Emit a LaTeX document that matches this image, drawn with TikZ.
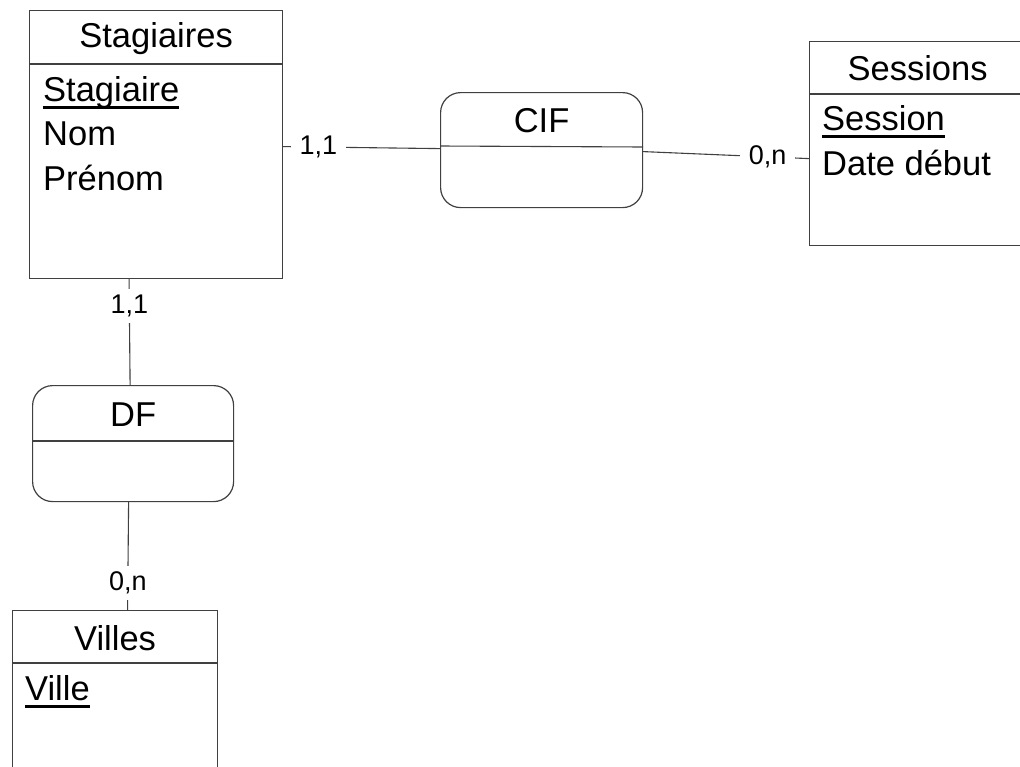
\documentclass[tikz,border=0pt]{standalone}
\usepackage{fontspec}
\setmainfont{Liberation Sans}
% key attribute: text with a thick underline
\newcommand\keyattr[1]{\setbox0\hbox{#1}\rlap{\rule[-8pt]{\wd0}{2.8pt}}#1}
\begin{document}
\begin{tikzpicture}[x=1pt,y=-1pt,
  box/.style={draw=black!75,line width=1.2pt,anchor=north west,inner sep=0pt},
  entity/.style={box},
  assoc/.style={box,rounded corners=20pt},
  sep/.style={draw=black!75,line width=1.1pt},
  link/.style={draw=black!75,line width=1.1pt},
  title/.style={anchor=base,inner sep=0pt,font=\fontsize{34.5}{40}\selectfont},
  attr/.style={anchor=base west,inner sep=0pt,font=\fontsize{34.5}{40}\selectfont},
  card/.style={fill=white,inner xsep=9pt,inner ysep=6pt,font=\fontsize{27}{30}\selectfont}]
\useasboundingbox (0,0) rectangle (1020,766);

% entities
\node[entity,minimum width=253pt,minimum height=268pt] (stag) at (29,10) {};
\node[entity,minimum width=216pt,minimum height=204pt] (sess) at (809,41) {};
\node[entity,minimum width=205pt,minimum height=200pt] (vill) at (12,610) {};
% associations
\node[assoc,minimum width=202pt,minimum height=115pt] (cif) at (440,92) {};
\node[assoc,minimum width=201pt,minimum height=116pt] (df) at (32,385) {};

% header separators
\draw[sep] ([yshift=-54pt]stag.north west) -- ([yshift=-54pt]stag.north east);
\draw[sep] ([yshift=-53pt]sess.north west) -- ([yshift=-53pt]sess.north east);
\draw[sep] ([yshift=-53pt]vill.north west) -- ([yshift=-53pt]vill.north east);
\draw[sep] ([yshift=-54pt]cif.north west) -- ([yshift=-55pt]cif.north east);
\draw[sep] ([yshift=-56pt]df.north west) -- ([yshift=-56pt]df.north east);

% titles
\node[title] (stag-t) at ([yshift=-37pt]stag.north) {Stagiaires};
\node[title] (sess-t) at ([yshift=-39pt]sess.north) {Sessions};
\node[title] (vill-t) at ([yshift=-40pt]vill.north) {Villes};
\node[title] (cif-t) at ([yshift=-40pt]cif.north) {CIF};
\node[title] (df-t) at ([yshift=-41pt]df.north) {DF};

% attributes
\node[attr] (stag-a1) at ([xshift=14pt,yshift=-91pt]stag.north west) {\keyattr{Stagiaire}};
\node[attr] (stag-a2) at ([xshift=14pt,yshift=-135pt]stag.north west) {Nom};
\node[attr] (stag-a3) at ([xshift=14pt,yshift=-180pt]stag.north west) {Prénom};
\node[attr] (sess-a1) at ([xshift=13pt,yshift=-89pt]sess.north west) {\keyattr{Session}};
\node[attr] (sess-a2) at ([xshift=13pt,yshift=-134pt]sess.north west) {Date début};
\node[attr] (vill-a1) at ([xshift=13pt,yshift=-90pt]vill.north west) {\keyattr{Ville}};

% links with cardinalities
\draw[link] ([yshift=-2pt]stag.east) -- node[card,pos=0.225] (c1) {1,1} ([yshift=1.5pt]cif.west);
\draw[link] ([yshift=-1.5pt]cif.east) -- node[card,pos=0.75] (c2) {0,n} ([yshift=-15pt]sess.west);
\draw[link] ([xshift=-27pt]stag.south) -- node[card,pos=0.25] (c3) {1,1} ([xshift=-3pt]df.north);
\draw[link] ([xshift=-4.5pt]df.south) -- node[card,pos=0.75] (c4) {0,n} ([xshift=12.5pt]vill.north);
\end{tikzpicture}
\end{document}
